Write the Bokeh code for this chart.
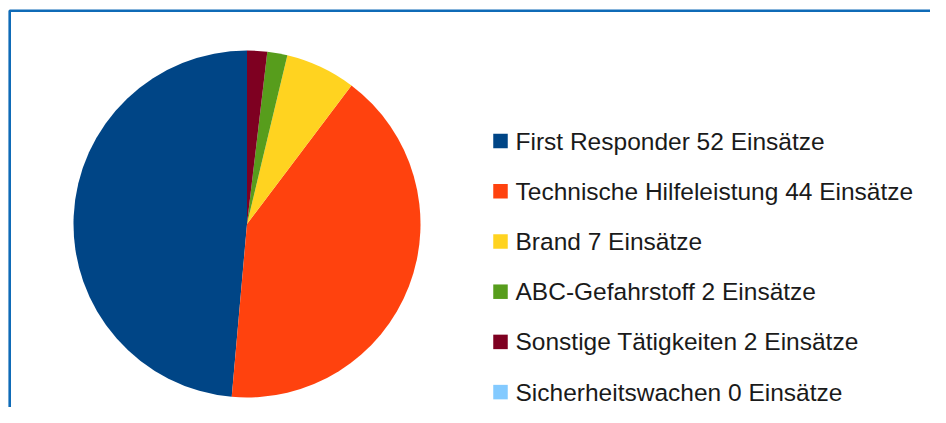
import math
from bokeh.plotting import figure
from bokeh.models import Range1d, ColumnDataSource, BoxAnnotation
from bokeh.core.properties import value
from bokeh.embed import file_html
from bokeh.resources import INLINE

# ---- data ----
categories = ["First Responder", "Technische Hilfeleistung", "Brand",
              "ABC-Gefahrstoff", "Sonstige Tätigkeiten", "Sicherheitswachen"]
counts = [52, 44, 7, 2, 2, 0]
colors = ["#004586", "#ff420e", "#ffd320", "#579d1c", "#7e0021", "#83caff"]
unit = "Einsätze"

# ---- layout ----
W, H = 930, 407
def sx(x):  # picture x -> data x
    return x
def sy(y):  # picture y -> data y
    return H - y

p = figure(width=W, height=H, x_range=Range1d(0, W), y_range=Range1d(0, H),
           output_backend="svg", toolbar_location=None, min_border=0,
           x_axis_location=None, y_axis_location=None)
p.grid.visible = False
p.outline_line_color = None
p.background_fill_color = "white"
p.border_fill_color = "white"

# frame border
p.add_layout(BoxAnnotation(left=sx(9.2), top=sy(10.3), right=W + 50, bottom=-50,
                           fill_alpha=0, line_color="#0f6bb7", line_alpha=1.0,
                           line_width=2.6, level="underlay"))

# pie
total = sum(counts)
starts, ends, cols = [], [], []
cum = 0
for n, c in zip(counts, colors):
    a0 = math.pi / 2 + 2 * math.pi * cum / total
    cum += n
    a1 = math.pi / 2 + 2 * math.pi * cum / total
    if n > 0:
        starts.append(a0); ends.append(a1); cols.append(c)
src = ColumnDataSource(dict(start=starts, end=ends, color=cols))
p.wedge(x=sx(246.5), y=sy(223.5), radius=173.5, radius_units="screen",
        start_angle="start", end_angle="end", direction="anticlock",
        fill_color="color", line_color=None, source=src)

# legend
row0, step = 140.6, 50.2
ly, ty, lab = [], [], []
for i, (cat, n) in enumerate(zip(categories, counts)):
    cyc = row0 + i * step
    ly.append(sy(cyc))
    ty.append(sy(cyc))
    lab.append(f"{cat} {n} {unit}")
lsrc = ColumnDataSource(dict(x=[sx(500)] * len(categories), y=ly, ty=ty,
                             tx=[sx(515)] * len(categories), label=lab, color=colors))
p.rect(x="x", y="y", width=14.5, height=14.5, width_units="screen", height_units="screen",
       fill_color="color", line_color=None, source=lsrc)
p.text(x="tx", y="ty", text="label", text_font=value("Liberation Sans"),
       text_font_size="24.5px", text_baseline="middle", text_align="left",
       text_color="#1a1a1a", source=lsrc)

open("out.html", "w").write(file_html(p, INLINE))
